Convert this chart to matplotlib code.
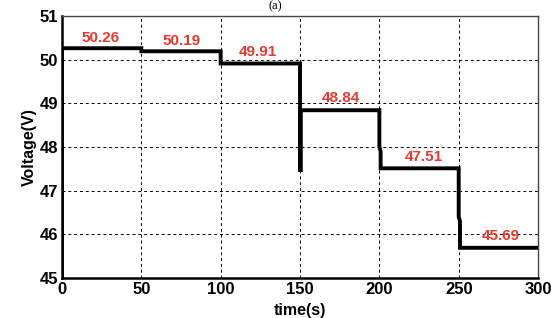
import matplotlib.pyplot as plt

plt.rcParams['font.family'] = ['Liberation Sans', 'DejaVu Sans']

# step-wise voltage trace
time_s = [0, 0, 50, 50, 100, 100, 150, 150, 150.5, 150.5, 200, 200, 200.8, 200.8, 250, 250, 250.8, 250.8, 300]
voltage = [45, 50.26, 50.26, 50.19, 50.19, 49.91, 49.91, 47.47, 47.47, 48.84, 48.84, 48.0, 47.9, 47.51, 47.51, 46.4, 46.3, 45.69, 45.69]

label_t = [24, 75.5, 123.5, 176, 228, 276.5]
label_v = [50.50, 50.43, 50.18, 49.12, 47.77, 45.96]
label_txt = ['50.26', '50.19', '49.91', '48.84', '47.51', '45.69']

fig = plt.figure(figsize=(5.51, 3.18), dpi=100)
ax = fig.add_axes([0.1125, 0.126, 0.8640, 0.824])

ax.plot(time_s, voltage, color='black', lw=2.8, solid_joinstyle='miter')
for t, v, s in zip(label_t, label_v, label_txt):
    ax.text(t, v, s, color='#e8392e', fontsize=11, fontweight='bold', ha='center', va='center')

ax.set_xlim(0, 300)
ax.set_ylim(45, 51)
ax.set_xticks(range(0, 301, 50))
ax.set_yticks(range(45, 52))
ax.grid(True, color='black', linestyle=(0, (3, 3)), lw=0.7)
ax.tick_params(length=0, labelsize=12, pad=3)
for lab in ax.get_xticklabels() + ax.get_yticklabels():
    lab.set_fontweight('bold')
ax.set_xlabel('time(s)', fontsize=11.5, fontweight='bold', labelpad=4)
ax.set_ylabel('Voltage(V)', fontsize=11.5, fontweight='bold', labelpad=2)
for side in ['left', 'bottom']:
    ax.spines[side].set_linewidth(1.8)
for side in ['top', 'right']:
    ax.spines[side].set_linewidth(1.0)
    ax.spines[side].set_color('#444444')

fig.text(0.5, 0.999, '(a)', family='Liberation Serif', fontsize=9, ha='center', va='top')

fig.savefig('out.png', dpi=100)
